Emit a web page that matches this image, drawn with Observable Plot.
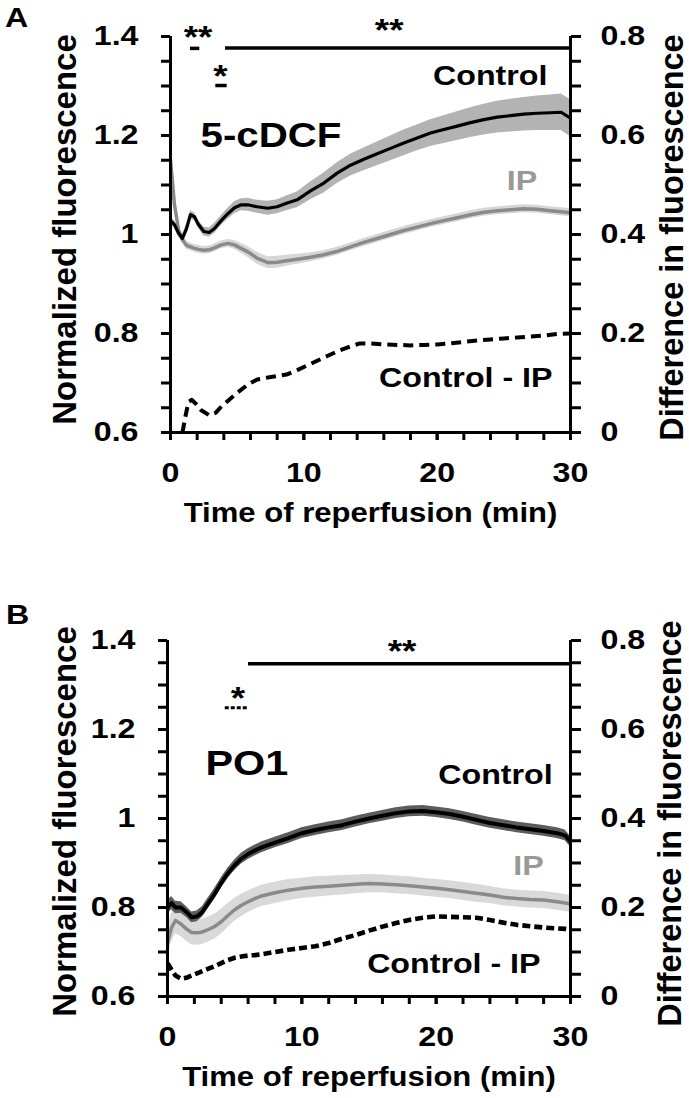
<!DOCTYPE html>
<html><head><meta charset="utf-8">
<script src="https://cdn.jsdelivr.net/npm/d3@7"></script>
<script src="https://cdn.jsdelivr.net/npm/@observablehq/plot@0.6"></script>
<style>
body{margin:0;background:#fff;}
#chart{width:689px;height:1098px;overflow:hidden;}
#chart svg{display:block;}
</style>
</head><body><div id="chart"></div>
<script>
// ---------- axes / ticks ----------
const xDomain = [0, 30];
const yDomain = [0.6, 1.4];
const diffDomain = [0, 0.8];
const xTicks = [0, 10, 20, 30];
const xMinorTicks = [0, 2, 4, 6, 8, 10, 12, 14, 16, 18, 20, 22, 24, 26, 28, 30];
const yTicks = [0.6, 0.8, 1, 1.2, 1.4];
const yMinorTicks = [0.6, 0.65, 0.7, 0.75, 0.8, 0.85, 0.9, 0.95, 1, 1.05, 1.1, 1.15, 1.2, 1.25, 1.3, 1.35, 1.4];
const diffTicks = [0, 0.2, 0.4, 0.6, 0.8];
const xTitle = "Time of reperfusion (min)";
const yTitle = "Normalized fluorescence";
const y2Title = "Difference in fluorescence";

// ---------- Panel A (5-cDCF) ----------
const timeA = [0,0.3,0.6,0.9,1.2,1.5,1.8,2.1,2.5,2.9,3.3,3.8,4.3,4.8,5.3,5.8,6.5,7.3,8,8.7,9.5,10.5,11.5,12.5,13.5,14.5,15.5,16.5,17.5,18.5,19.5,20.5,21.5,22.5,23.5,24.5,25.5,26.5,27.5,28.5,29.3,30];
const controlA = [1.028,1.02,1.003,0.992,1.012,1.04,1.036,1.02,1.006,1.004,1.012,1.028,1.042,1.054,1.06,1.06,1.056,1.053,1.056,1.063,1.07,1.088,1.104,1.124,1.14,1.152,1.163,1.174,1.185,1.195,1.205,1.212,1.219,1.226,1.232,1.237,1.24,1.243,1.245,1.246,1.247,1.235];
const controlErrA = [0.008,0.008,0.008,0.008,0.008,0.008,0.008,0.008,0.009,0.009,0.01,0.01,0.011,0.012,0.012,0.013,0.013,0.014,0.014,0.015,0.016,0.018,0.02,0.021,0.022,0.023,0.024,0.025,0.026,0.026,0.027,0.028,0.029,0.03,0.031,0.032,0.033,0.034,0.035,0.036,0.037,0.037];
const ipA = [1.15,1.06,1.01,0.99,0.978,0.975,0.972,0.97,0.968,0.969,0.973,0.979,0.982,0.979,0.972,0.965,0.952,0.943,0.944,0.947,0.95,0.954,0.959,0.966,0.975,0.984,0.992,1.0,1.008,1.015,1.022,1.028,1.034,1.04,1.045,1.048,1.05,1.052,1.051,1.048,1.046,1.044];
const ipErrA = [0.008,0.008,0.008,0.008,0.008,0.008,0.008,0.008,0.008,0.008,0.008,0.008,0.008,0.009,0.01,0.011,0.012,0.012,0.012,0.011,0.01,0.009,0.008,0.008,0.008,0.008,0.008,0.008,0.008,0.008,0.008,0.008,0.008,0.008,0.008,0.008,0.008,0.008,0.008,0.008,0.008,0.008];
const timeDiffA = [0.9,1.1,1.35,1.6,1.9,2.3,2.9,3.4,3.9,4.4,5,5.8,6.5,7.3,8,8.7,9.5,10.3,11,11.8,12.7,13.5,14.2,15,16,17,18,19,20,21,22,23,24,25,26,27,28,29,30];
const diffA = [0,0.03,0.062,0.066,0.058,0.045,0.035,0.04,0.055,0.066,0.08,0.097,0.107,0.111,0.114,0.117,0.126,0.136,0.145,0.155,0.166,0.174,0.18,0.18,0.178,0.177,0.176,0.177,0.178,0.18,0.183,0.186,0.188,0.19,0.192,0.194,0.196,0.199,0.2];
const labelsA = [
  {t: 28.27, v: 1.321, text: "Control", color: "#000"},
  {t: 27.5, v: 1.107, text: "IP", color: "#999"},
  {t: 28.65, v: 0.711, text: "Control - IP", color: "#000"}
];
const dyeA = [{t: 2.25, v: 1.2, text: "5-cDCF"}];
const starsA = [
  {t: 2.06, v: 1.397, text: "**"},
  {t: 3.75, v: 1.319, text: "*"},
  {t: 16.4, v: 1.412, text: "**"}
];
const barsA = [
  {t1: 1.5, t2: 2.2, v: 1.376},
  {t1: 3.4, t2: 4.25, v: 1.301},
  {t1: 4.13, t2: 30, v: 1.377}
];
const dottedBarsA = [];

// ---------- Panel B (PO1) ----------
const timeB = [0,0.3,0.6,1,1.4,1.8,2.2,2.6,3,3.5,4,4.5,5,5.5,6,6.5,7,8,9,10,11,12,13,14,15,16,17,18,19,20,21,22,23,24,25,26,27,28,29,29.6,30];
const controlB = [0.8,0.81,0.8,0.8,0.79,0.778,0.78,0.79,0.808,0.83,0.855,0.877,0.895,0.91,0.92,0.928,0.935,0.946,0.956,0.967,0.974,0.98,0.985,0.993,1.0,1.006,1.012,1.016,1.017,1.014,1.01,1.004,0.997,0.99,0.985,0.98,0.976,0.972,0.967,0.962,0.948];
const controlErrB = [0.015,0.015,0.014,0.013,0.012,0.012,0.012,0.012,0.012,0.012,0.012,0.012,0.012,0.012,0.012,0.012,0.012,0.012,0.012,0.012,0.012,0.012,0.012,0.012,0.012,0.012,0.012,0.012,0.012,0.012,0.012,0.012,0.012,0.012,0.012,0.012,0.012,0.012,0.012,0.012,0.012];
const ipB = [0.72,0.755,0.771,0.763,0.752,0.744,0.743,0.745,0.75,0.757,0.768,0.782,0.795,0.805,0.813,0.82,0.826,0.833,0.839,0.843,0.846,0.848,0.85,0.852,0.854,0.853,0.851,0.849,0.846,0.843,0.84,0.836,0.832,0.828,0.823,0.82,0.818,0.817,0.813,0.81,0.808];
const ipErrB = [0.035,0.032,0.03,0.028,0.028,0.028,0.028,0.028,0.028,0.028,0.028,0.027,0.026,0.025,0.024,0.024,0.024,0.024,0.024,0.023,0.023,0.022,0.022,0.021,0.021,0.02,0.02,0.02,0.02,0.02,0.02,0.02,0.02,0.019,0.019,0.019,0.019,0.019,0.019,0.019,0.019];
const timeDiffB = timeB;
const diffB = [0.075,0.06,0.047,0.04,0.042,0.047,0.052,0.057,0.062,0.068,0.075,0.082,0.087,0.09,0.092,0.093,0.095,0.1,0.105,0.109,0.113,0.12,0.13,0.138,0.148,0.157,0.165,0.172,0.177,0.18,0.179,0.178,0.177,0.172,0.166,0.161,0.158,0.155,0.153,0.152,0.15];
const labelsB = [
  {t: 28.67, v: 1.097, text: "Control", color: "#000"},
  {t: 28.0, v: 0.894, text: "IP", color: "#999"},
  {t: 27.77, v: 0.674, text: "Control - IP", color: "#000"}
];
const dyeB = [{t: 2.83, v: 1.124, text: "PO1"}];
const starsB = [
  {t: 5.25, v: 1.269, text: "*"},
  {t: 17.46, v: 1.374, text: "**"}
];
const barsB = [{t1: 6.03, t2: 30, v: 1.348}];
const dottedBarsB = [{t1: 4.3, t2: 6.0, v: 1.249}];

// ---------- rendering ----------
const FONT = "Liberation Sans, Arial, Helvetica, sans-serif";
const diffToLeft = d3.scaleLinear().domain(diffDomain).range(yDomain);
const leftToDiff = diffToLeft.invert;
const fmt = d3.format(".1~f");

function panel(cfg) {
  const rows = cfg.time.map((t, i) => ({t, c: cfg.control[i], ce: cfg.controlErr[i], p: cfg.ip[i], pe: cfg.ipErr[i]}));
  const drows = cfg.timeDiff.map((t, i) => ({t, d: cfg.diff[i]}));
  const st = cfg.style;
  const T = {fontWeight: "bold", fill: "#000", textAnchor: "middle", lineAnchor: "middle"};
  const svg = Plot.plot({
    width: 689, height: 549,
    marginTop: cfg.mt, marginBottom: cfg.mb, marginLeft: cfg.ml, marginRight: 119,
    x: {domain: xDomain},
    y: {domain: yDomain},
    style: {fontFamily: FONT, fontWeight: "bold", fontSize: "28px", color: "#000", background: "#fff", overflow: "visible"},
    marks: [
      Plot.areaY(rows, {x: "t", y1: d => d.p - d.pe, y2: d => d.p + d.pe, fill: st.ipBand, clip: true}),
      Plot.areaY(rows, {x: "t", y1: d => d.c - d.ce, y2: d => d.c + d.ce, fill: st.ctlBand, clip: true}),
      Plot.line(rows, {x: "t", y: "p", stroke: "#8a8a8a", strokeWidth: 3.5, clip: true}),
      Plot.line(rows, {x: "t", y: "c", stroke: "#000", strokeWidth: st.ctlWidth, clip: true}),
      Plot.line(drows, {x: "t", y: d => diffToLeft(d.d), stroke: "#000", strokeWidth: st.dashWidth, strokeDasharray: st.dash, strokeLinecap: "butt", clip: true}),
      // axis lines
      Plot.ruleX([xDomain[0]], {stroke: "#000", strokeWidth: 3}),
      Plot.ruleX([xDomain[1]], {stroke: "#000", strokeWidth: 3}),
      Plot.ruleY([yDomain[0]], {stroke: "#000", strokeWidth: 3}),
      // ticks
      Plot.axisY({anchor: "left", ticks: yMinorTicks, tickSize: 9, tickFormat: () => "", strokeWidth: 3, label: null}),
      Plot.axisY({anchor: "left", ticks: yTicks, tickSize: 9, tickPadding: 23, tickFormat: fmt, strokeWidth: 3, fontSize: 28, fontWeight: "bold", label: null}),
      Plot.axisY({anchor: "right", ticks: yMinorTicks, tickSize: 10, tickFormat: () => "", strokeWidth: 3, label: null}),
      Plot.axisY({anchor: "right", ticks: diffTicks.map(diffToLeft), tickSize: 10, tickPadding: 20, tickFormat: v => fmt(leftToDiff(v)), strokeWidth: 3, fontSize: 28, fontWeight: "bold", label: null}),
      Plot.axisX({anchor: "bottom", ticks: xMinorTicks, tickSize: 8, tickFormat: () => "", strokeWidth: 3, label: null}),
      Plot.axisX({anchor: "bottom", ticks: xTicks, tickSize: 8, tickPadding: 22, tickFormat: d => String(d), strokeWidth: 3, fontSize: 28, fontWeight: "bold", label: null}),
      // axis titles
      Plot.text([yTitle], {...T, frameAnchor: "left", dx: cfg.ytdx, dy: cfg.ytdy, rotate: -90, fontSize: 33}),
      Plot.text([y2Title], {...T, frameAnchor: "right", dx: cfg.y2tdx, dy: cfg.y2tdy, rotate: -90, fontSize: 32.5}),
      Plot.text([xTitle], {...T, frameAnchor: "bottom", dy: 81, fontSize: 27}),
      Plot.text([cfg.letter], {...T, frameAnchor: "top-left", dx: cfg.ldx, dy: cfg.ldy, fontSize: 28}),
      // significance
      Plot.ruleY(cfg.bars, {y: "v", x1: "t1", x2: "t2", stroke: "#000", strokeWidth: 3.5}),
      Plot.ruleY(cfg.dottedBars, {y: "v", x1: "t1", x2: "t2", stroke: "#000", strokeWidth: 3, strokeDasharray: "4,2"}),
      Plot.text(cfg.stars, {...T, x: "t", y: "v", text: "text", fontSize: 32}),
      // labels
      Plot.text(cfg.labels, {...T, x: "t", y: "v", text: "text", fill: "color", textAnchor: "end", fontSize: 28}),
      Plot.text(cfg.dye, {...T, x: "t", y: "v", text: "text", textAnchor: "start", fontSize: cfg.dyeSize})
    ]
  });
  // horizontal stretch of non-rotated text (about its own anchor) to match the reference lettering
  svg.querySelectorAll("text").forEach(t => {
    const tr = t.getAttribute("transform");
    if (!tr || tr.includes("rotate")) return;
    t.setAttribute("transform", `${tr} scale(1.15,1)`);
  });
  return svg;
}

const chart = document.getElementById("chart");
chart.appendChild(panel({
  time: timeA, control: controlA, controlErr: controlErrA, ip: ipA, ipErr: ipErrA,
  timeDiff: timeDiffA, diff: diffA, labels: labelsA, dye: dyeA, dyeSize: 35,
  stars: starsA, bars: barsA, dottedBars: dottedBarsA,
  mt: 36, mb: 117, ml: 170, ytdx: -105, ytdy: -5, y2tdx: 102, y2tdy: 3,
  letter: "A", ldx: -154, ldy: -18,
  style: {ipBand: "#d6d6d6", ctlBand: "#b3b3b3", ctlWidth: 3.2, dash: "10,6", dashWidth: 4}
}));
chart.appendChild(panel({
  time: timeB, control: controlB, controlErr: controlErrB, ip: ipB, ipErr: ipErrB,
  timeDiff: timeDiffB, diff: diffB, labels: labelsB, dye: dyeB, dyeSize: 36,
  stars: starsB, bars: barsB, dottedBars: dottedBarsB,
  mt: 91, mb: 102, ml: 167, ytdx: -102, ytdy: 3, y2tdx: 100, y2tdy: 5,
  letter: "B", ldx: -150, ldy: -25,
  style: {ipBand: "#d9d9d9", ctlBand: "#5c5c5c", ctlWidth: 4, dash: "8,4", dashWidth: 4.6}
}));
</script></body></html>
